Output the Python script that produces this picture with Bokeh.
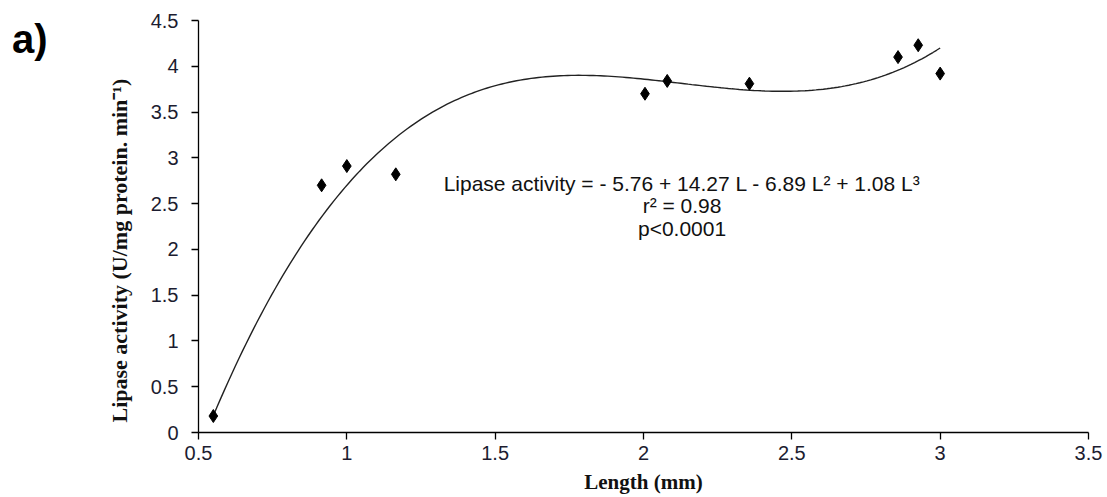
import numpy as np
from bokeh.plotting import figure
from bokeh.models import Range1d, FixedTicker, Label, Title, LinearAxis
from bokeh.embed import file_html
from bokeh.resources import INLINE

# Observed data (length in mm, lipase activity)
length_mm = [0.55, 0.915, 1.0, 1.165, 2.005, 2.08, 2.357, 2.858, 2.926, 3.0]
activity = [0.18, 2.70, 2.91, 2.82, 3.70, 3.84, 3.81, 4.10, 4.23, 3.92]

# Fitted cubic coefficients as printed in the chart: b0, b1, b2, b3
fit_coefs = [-5.76, 14.27, -6.89, 1.08]
fit_range = [0.55, 3.0]

x_ticks = [0.5, 1, 1.5, 2, 2.5, 3, 3.5]
y_ticks = [0, 0.5, 1, 1.5, 2, 2.5, 3, 3.5, 4, 4.5]

annotation_lines = [
    "Lipase activity = - 5.76 + 14.27 L - 6.89 L\u00b2 + 1.08 L\u00b3",
    "r\u00b2 = 0.98",
    "p<0.0001",
]

W, H = 1107, 497
p = figure(width=W, height=H, output_backend="svg", toolbar_location=None,
           x_range=Range1d(0.5, 3.5), y_range=Range1d(0, 4.5),
           min_border_left=198, min_border_right=19, min_border_top=20,
           min_border_bottom=65)
p.outline_line_color = None
p.grid.visible = False
p.background_fill_color = "white"
p.border_fill_color = "white"

for ax in (p.xaxis[0], p.yaxis[0]):
    ax.axis_line_color = "black"
    ax.axis_line_width = 1.3
    ax.major_tick_line_color = "black"
    ax.major_tick_line_width = 1.3
    ax.major_tick_in = 0
    ax.major_tick_out = 7
    ax.minor_tick_line_color = None
    ax.major_label_text_font = "Liberation Sans"
    ax.major_label_text_font_size = "20px"
    ax.major_label_text_color = "#1c1c30"

p.xaxis.ticker = FixedTicker(ticks=x_ticks)
p.yaxis.ticker = FixedTicker(ticks=y_ticks)
p.xaxis.major_label_standoff = 6
p.yaxis.major_label_standoff = 13
p.xaxis.axis_label = "Length (mm)"
p.xaxis.axis_label_text_font = "Liberation Serif"
p.xaxis.axis_label_text_font_style = "bold"
p.xaxis.axis_label_text_font_size = "21px"
p.xaxis.axis_label_text_color = "#111"
p.xaxis.axis_label_standoff = 7

# fitted curve from the printed coefficients
xs = np.linspace(fit_range[0], fit_range[1], 200)
ys = sum(c * xs ** i for i, c in enumerate(fit_coefs))
p.line(xs, ys, line_color="#222222", line_width=1.4)

p.scatter(length_mm, activity, marker="diamond", size=13, fill_color="black",
          line_color="black")

# annotation
ann_x = 2.13
ann_y = [2.72, 2.48, 2.23]
for t, yy in zip(annotation_lines, ann_y):
    p.add_layout(Label(x=ann_x, y=yy, text=t, text_align="center",
                       text_baseline="middle", text_font="Liberation Sans",
                       text_font_size="21px", text_color="#111"))

# y axis title as a side title
p.add_layout(Title(text="Lipase activity  (U/mg protein. min\u207b\u00b9)",
                   align="left", offset=10, standoff=31,
                   text_font="Liberation Serif", text_font_style="bold",
                   text_font_size="22px", text_color="#111"), "left")

# panel letter, carried by a bare outer axis so it can sit outside the frame
letter_axis = LinearAxis(ticker=FixedTicker(ticks=[]), axis_line_color=None,
                         major_tick_line_color=None, minor_tick_line_color=None,
                         major_label_text_font_size="0px",
                         axis_label="\na)", axis_label_orientation="horizontal",
                         axis_label_align="end", axis_label_standoff=42,
                         axis_label_text_line_height=0.85,
                         axis_label_text_font="Liberation Sans",
                         axis_label_text_font_style="bold",
                         axis_label_text_font_size="40px",
                         axis_label_text_color="black")
p.add_layout(letter_axis, "left")

open("out.html", "w").write(file_html(p, INLINE))
